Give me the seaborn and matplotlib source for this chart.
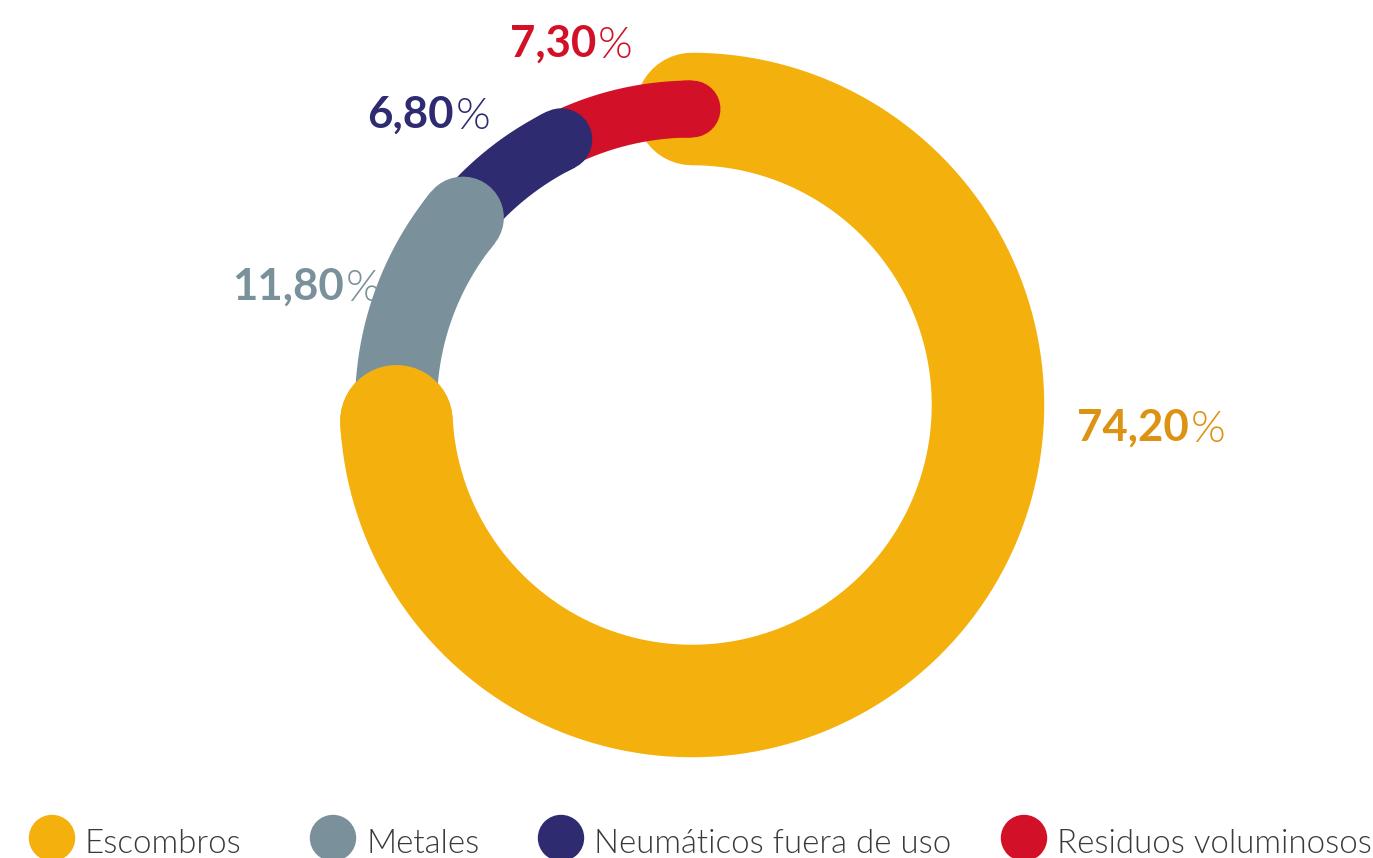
import numpy as np
import matplotlib
matplotlib.use("Agg")
import matplotlib.pyplot as plt
import seaborn as sns
from matplotlib.patches import Ellipse

# datos
categorias = ["Escombros", "Metales", "Neumáticos fuera de uso", "Residuos voluminosos"]
porcentajes = [74.2, 11.8, 6.8, 7.3]
etiquetas = ["74,20", "11,80", "6,80", "7,30"]

colores = sns.color_palette(["#F4B00C", "#7A919B", "#2E2B70", "#D21028"])
colores_texto = ["#DC9212", "#7A919B", "#2E2B70", "#D21028"]
grosores = [81, 59, 45, 41]  # pt

sns.set_theme(style="white")
plt.rcParams["font.family"] = ["Lato", "DejaVu Sans"]

W, H = 1373, 858
fig = plt.figure(figsize=(W / 100, H / 100), dpi=100)
ax = fig.add_axes([0, 0, 1, 1])
ax.set_xlim(0, W)
ax.set_ylim(H, 0)
ax.axis("off")

cx, cy, r = 692, 405, 296


def arco(t0, t1, n=300):
    t = np.radians(np.linspace(t0, t1, n))
    return cx + r * np.cos(t), cy - r * np.sin(t)


# angulos: empieza arriba y gira en sentido horario
total = sum(porcentajes)
limites = [90]
for p in porcentajes:
    limites.append(limites[-1] - 360 * p / total)

# arcos
for i, c in enumerate(colores):
    x, y = arco(limites[i], limites[i + 1])
    cap = "round" if i == 0 else "butt"
    ax.plot(x, y, color=c, lw=grosores[i], solid_capstyle=cap, zorder=1 + i)

# extremos redondeados encima del siguiente tramo
for i, c in enumerate(colores):
    x, y = arco(limites[i + 1] + 1.5, limites[i + 1], 10)
    ax.plot(x, y, color=c, lw=grosores[i], solid_capstyle="round", zorder=10)

# etiquetas de porcentaje
pos_etiquetas = [(1077, 441), (232, 300), (367, 128), (510, 57)]
renderer = fig.canvas.get_renderer()
for (x0, y0), txt, c in zip(pos_etiquetas, etiquetas, colores_texto):
    t = ax.text(x0, y0, txt, color=c, fontsize=31.5, fontweight="bold",
                ha="left", va="baseline", zorder=20)
    bb = t.get_window_extent(renderer=renderer)
    xr = ax.transData.inverted().transform((bb.x1, bb.y0))[0]
    ax.text(xr + 2, y0 + 1, "%", color=c, fontsize=32, fontweight=300,
            ha="left", va="baseline", zorder=20)

# leyenda
pos_leyenda = [52, 333, 561, 1024]
for xc, nombre, c in zip(pos_leyenda, categorias, colores):
    ax.add_patch(Ellipse((xc, 838), 45, 45, color=c, zorder=20, clip_on=False))
    ax.text(xc + 33, 853, nombre, color="#3a3a3a", fontsize=23.8,
            fontweight=300, ha="left", va="baseline")

fig.savefig("out.png", dpi=100)
